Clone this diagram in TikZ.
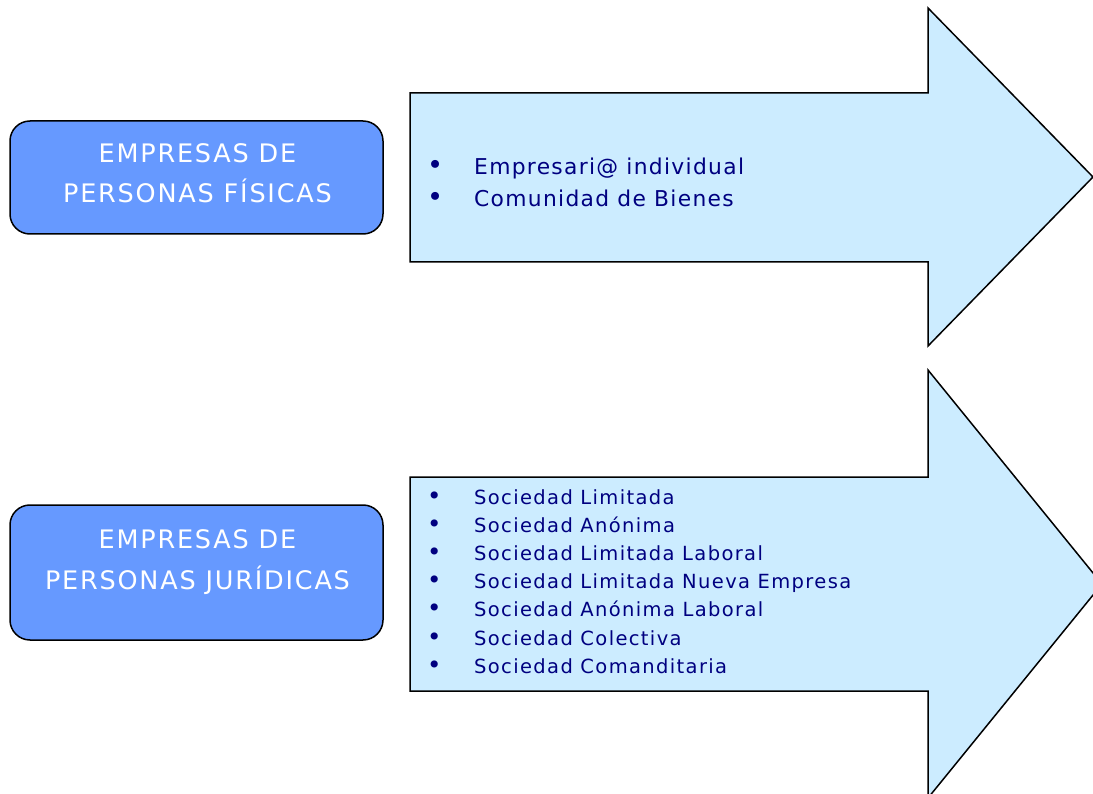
\documentclass[tikz,border=0pt]{standalone}
\usepackage{fontspec}
\setmainfont{DejaVu Sans}
\newfontfamily\boxfont[LetterSpace=7]{DejaVu Sans}
\newfontfamily\listfont[LetterSpace=6]{DejaVu Sans}
\newfontfamily\listfontb[LetterSpace=7]{DejaVu Sans}
\definecolor{boxblue}{HTML}{6699FF}
\definecolor{arrowblue}{HTML}{CCECFF}
\definecolor{navy}{HTML}{000080}
\tikzset{
  catbox/.style={draw=black, line width=1.5pt, fill=boxblue, rounded corners=20pt, inner sep=0pt},
  arrowshape/.style={draw=black, line width=1.5pt, fill=arrowblue, line join=miter},
  boxtext/.style={text=white, font=\boxfont\fontsize{25.5}{30}\selectfont, inner sep=0pt, anchor=base},
  listone/.style={text=navy, font=\listfont\fontsize{21.8}{26}\selectfont, inner sep=0pt, anchor=base west},
  listtwo/.style={text=navy, font=\listfontb\fontsize{19.5}{22}\selectfont, inner sep=0pt, anchor=base west},
}
\newcommand{\bul}[1]{\makebox[47pt][l]{\scalebox{1.25}{•}}#1}
\begin{document}
\begin{tikzpicture}[x=1pt,y=-1pt]
\useasboundingbox (0,0) rectangle (1093,794);
\clip (0,0) rectangle (1093,794);
% arrows
\draw[arrowshape] (410,93) -- (928,93) -- (928,8) -- (1093,177) -- (928,346) -- (928,262) -- (410,262) -- cycle;
\draw[arrowshape] (410,477) -- (928,477) -- (928,370) -- (1102,584) -- (928,798) -- (928,691) -- (410,691) -- cycle;
% category boxes
\node[catbox, minimum width=373pt, minimum height=113pt] (fis) at (196.5,177.5) {};
\node[catbox, minimum width=373pt, minimum height=135pt] (jur) at (196.5,572.5) {};
\node[boxtext] (fisa) at (197.5,163) {EMPRESAS DE};
\node[boxtext] (fisb) at (197.5,203) {PERSONAS FÍSICAS};
\node[boxtext] (jura) at (197.5,548) {EMPRESAS DE};
\node[boxtext] (jurb) at (197.5,589) {PERSONAS JURÍDICAS};
% list 1
\node[listone] (l1a) at (427,175) {\bul{Empresari@ individual}};
\node[listone] (l1b) at (427,207) {\bul{Comunidad de Bienes}};
% list 2
\node[listtwo] (l2a) at (427,504) {\bul{Sociedad Limitada}};
\node[listtwo] (l2b) at (427,532.2) {\bul{Sociedad Anónima}};
\node[listtwo] (l2c) at (427,560.4) {\bul{Sociedad Limitada Laboral}};
\node[listtwo] (l2d) at (427,588.6) {\bul{Sociedad Limitada Nueva Empresa}};
\node[listtwo] (l2e) at (427,616.8) {\bul{Sociedad Anónima Laboral}};
\node[listtwo] (l2f) at (427,645) {\bul{Sociedad Colectiva}};
\node[listtwo] (l2g) at (427,673.2) {\bul{Sociedad Comanditaria}};
\end{tikzpicture}
\end{document}
